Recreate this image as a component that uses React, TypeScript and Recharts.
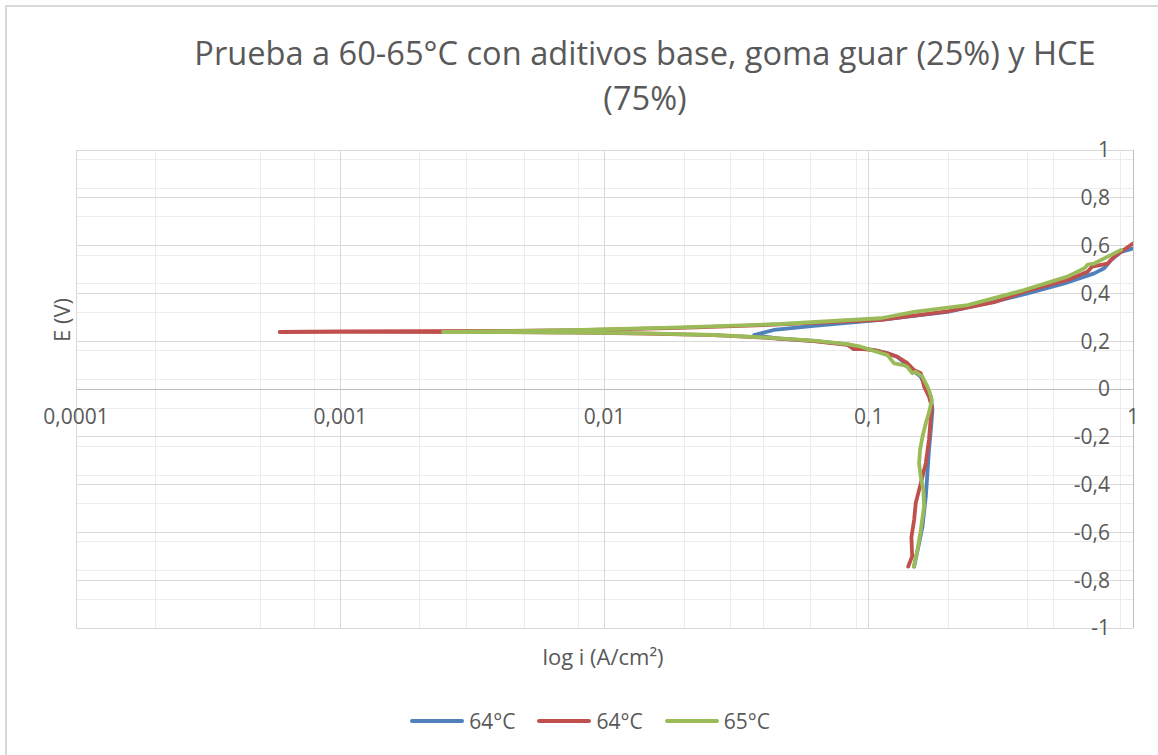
import React from 'react';
import { LineChart, Line, XAxis, YAxis, CartesianGrid, ReferenceDot } from 'recharts';

// [current density i (A/cm2), potential E (V)]
const blue64: [number, number][] = [
  [0.1485, -0.743], [0.155, -0.646], [0.1597, -0.576], [0.1644, -0.45], [0.1667, -0.353],
  [0.169, -0.255], [0.1718, -0.17], [0.1742, -0.088], [0.1718, -0.032], [0.1644, 0.01],
  [0.1574, 0.051], [0.15, 0.07], [0.14, 0.1], [0.128, 0.135], [0.117, 0.15], [0.1048, 0.163],
  [0.093, 0.172], [0.083, 0.187], [0.0619, 0.201], [0.045, 0.212], [0.0368, 0.226],
  [0.0437, 0.247], [0.0619, 0.264], [0.111, 0.289], [0.1986, 0.323], [0.2985, 0.365],
  [0.399, 0.4], [0.5495, 0.442], [0.713, 0.484], [0.778, 0.505], [0.826, 0.54],
  [0.902, 0.574], [1.0, 0.588],
];

const red64: [number, number][] = [
  [0.141, -0.743], [0.146, -0.7], [0.145, -0.62], [0.1485, -0.548], [0.1506, -0.477],
  [0.155, -0.423], [0.1597, -0.367], [0.1644, -0.31], [0.169, -0.213], [0.1718, -0.116],
  [0.1733, -0.074], [0.169, -0.032], [0.162, 0.01], [0.1574, 0.066], [0.1481, 0.08],
  [0.1401, 0.108], [0.1284, 0.135], [0.1178, 0.149], [0.1048, 0.163], [0.093, 0.168],
  [0.0877, 0.167], [0.083, 0.185], [0.0619, 0.2], [0.04, 0.215], [0.0259, 0.225],
  [0.0145, 0.232], [0.0081, 0.236], [0.004, 0.238], [0.001, 0.239], [0.00059, 0.2385],
  [0.001, 0.241], [0.004, 0.243], [0.0081, 0.246], [0.0194, 0.256], [0.0465, 0.27],
  [0.111, 0.289], [0.1986, 0.325], [0.2985, 0.363], [0.387, 0.407], [0.565, 0.456],
  [0.673, 0.491], [0.7, 0.512], [0.802, 0.525], [0.849, 0.554], [1.0, 0.609],
];

const green65: [number, number][] = [
  [0.148, -0.743], [0.1528, -0.674], [0.1574, -0.59], [0.162, -0.49], [0.161, -0.423],
  [0.1574, -0.367], [0.155, -0.311], [0.1564, -0.255], [0.1597, -0.2], [0.1644, -0.143],
  [0.169, -0.1], [0.1733, -0.046], [0.169, -0.004], [0.1644, 0.024], [0.1597, 0.051],
  [0.1506, 0.072], [0.146, 0.066], [0.14, 0.093], [0.135, 0.1], [0.1247, 0.107],
  [0.1178, 0.142], [0.0933, 0.177], [0.083, 0.188], [0.0619, 0.202], [0.04, 0.216],
  [0.0259, 0.226], [0.0145, 0.233], [0.0081, 0.236], [0.0041, 0.238], [0.00245, 0.2385],
  [0.0041, 0.242], [0.0081, 0.247], [0.0194, 0.258], [0.0465, 0.272], [0.111, 0.296],
  [0.1485, 0.323], [0.2366, 0.351], [0.387, 0.414], [0.565, 0.47], [0.655, 0.505],
  [0.673, 0.52], [0.713, 0.525], [0.802, 0.554], [0.902, 0.582],
];

const seriesNames = ['64°C', '64°C', '65°C'];
const seriesColors = ['#4F81BD', '#C0504D', '#9BBB59'];
const seriesData = [blue64, red64, green65];

const xTicks = [0.0001, 0.001, 0.01, 0.1, 1];
const xTickLabels = ['0,0001', '0,001', '0,01', '0,1', '1'];
const yTicks = [-1, -0.8, -0.6, -0.4, -0.2, 0, 0.2, 0.4, 0.6, 0.8, 1];
const yTickLabels = ['-1', '-0,8', '-0,6', '-0,4', '-0,2', '0', '0,2', '0,4', '0,6', '0,8', '1'];

const xMinor: number[] = [];
[0.0001, 0.001, 0.01, 0.1].forEach((d) => {
  for (let k = 2; k <= 9; k++) xMinor.push(d * k);
});
const yMinor: number[] = [];
for (let n = -25; n <= 25; n++) {
  if (n % 5 !== 0) yMinor.push(Math.round(n * 4) / 100);
}

const toPts = (arr: [number, number][]) => arr.map(([i, e]) => ({ i, e }));

const FONT = '"Open Sans", "Noto Sans", sans-serif';
const TXT = '#595959';

export default function App() {
  return (
    <div style={{ position: 'relative', width: 1158, height: 755, background: '#fff', overflow: 'hidden', fontFamily: FONT }}>
      <style>{'body{margin:0}'}</style>
      <div style={{ position: 'absolute', left: 5, top: 5, width: 1200, height: 800, border: '2px solid #d9d9d9', boxSizing: 'border-box' }} />
      <div style={{ position: 'absolute', left: 100, width: 1090, top: 30, textAlign: 'center', fontSize: 32.6, lineHeight: '45px', color: TXT, whiteSpace: 'nowrap' }}>
        Prueba a 60-65°C con aditivos base, goma guar (25%) y HCE
        <br />
        (75%)
      </div>
      <div style={{ position: 'absolute', left: 61, top: 320, transform: 'translate(-50%,-50%) rotate(-90deg)', fontSize: 22, color: TXT, whiteSpace: 'nowrap' }}>
        E (V)
      </div>
      <div style={{ position: 'absolute', left: 603, top: 656, transform: 'translate(-50%,-50%)', fontSize: 22, color: TXT, whiteSpace: 'nowrap' }}>
        log i (A/cm²)
      </div>
      <div style={{ position: 'absolute', left: 0, width: 1180, top: 721, transform: 'translateY(-50%)', display: 'flex', justifyContent: 'center', fontSize: 21, color: TXT }}>
        {seriesNames.map((n, k) => (
          <div key={k} style={{ display: 'flex', alignItems: 'center', marginRight: k < 2 ? 22 : 0 }}>
            <div style={{ width: 54, height: 4, borderRadius: 2, background: seriesColors[k], marginRight: 5 }} />
            <span>{n}</span>
          </div>
        ))}
      </div>
      <div style={{ position: 'absolute', left: 0, top: 0 }}>
        <LineChart width={1158} height={755} margin={{ top: 150, right: 25, left: 76, bottom: 127 }}>
          <XAxis dataKey="i" type="number" scale="log" domain={[0.0001, 1]} ticks={xTicks} allowDataOverflow hide />
          <YAxis dataKey="e" type="number" domain={[-1, 1]} ticks={yTicks} allowDataOverflow hide />
          <CartesianGrid stroke="#ececec" strokeWidth={1} shapeRendering="crispEdges" horizontalValues={yMinor} verticalValues={xMinor} />
          <CartesianGrid stroke="#d9d9d9" strokeWidth={1} shapeRendering="crispEdges" horizontalValues={yTicks} verticalValues={xTicks} />
          <CartesianGrid stroke="#bfbfbf" strokeWidth={1} shapeRendering="crispEdges" horizontalValues={[0]} verticalValues={[1]} />
          {seriesData.map((d, k) => (
            <Line
              key={k}
              data={toPts(d)}
              dataKey="e"
              name={seriesNames[k]}
              type="linear"
              stroke={seriesColors[k]}
              strokeWidth={3.8}
              strokeLinejoin="round"
              strokeLinecap="round"
              dot={false}
              activeDot={false}
              isAnimationActive={false}
            />
          ))}
          {xTicks.map((t, k) => (
            <ReferenceDot
              key={'xl' + k}
              x={t}
              y={0}
              r={0}
              fill="none"
              stroke="none"
              label={{ value: xTickLabels[k], position: 'bottom', offset: 20, fill: TXT, fontSize: 21, fontFamily: FONT }}
            />
          ))}
          {yTicks.map((t, k) => (
            <ReferenceDot
              key={'yl' + k}
              x={1}
              y={t}
              r={0}
              fill="none"
              stroke="none"
              label={{ value: yTickLabels[k], position: 'left', offset: 23, fill: TXT, fontSize: 21, fontFamily: FONT }}
            />
          ))}
        </LineChart>
      </div>
    </div>
  );
}
